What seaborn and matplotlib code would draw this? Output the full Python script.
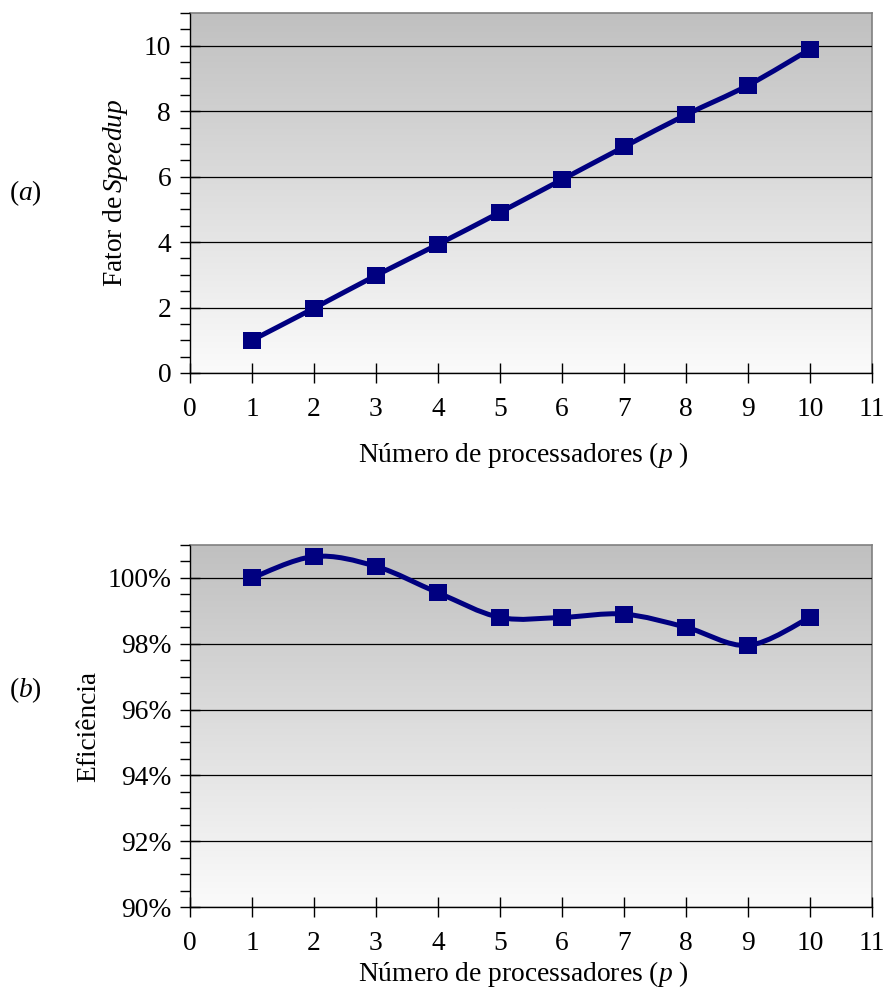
import numpy as np
import pandas as pd
import seaborn as sns
import matplotlib
matplotlib.use("Agg")
import matplotlib.pyplot as plt
from matplotlib.path import Path
from matplotlib.patches import PathPatch
from matplotlib.colors import LinearSegmentedColormap
from matplotlib.ticker import MultipleLocator, FuncFormatter

# ---- data ----
processors = [1, 2, 3, 4, 5, 6, 7, 8, 9, 10]
speedup = [1.00, 1.98, 2.98, 3.93, 4.91, 5.91, 6.91, 7.89, 8.79, 9.89]
efficiency = [100.0, 100.65, 100.35, 99.55, 98.8, 98.8, 98.9, 98.5, 97.95, 98.8]
x_ticks = list(range(0, 12))

sns.set_style("ticks")
plt.rcParams['font.family'] = ['Liberation Serif', 'DejaVu Serif']
plt.rcParams['mathtext.fontset'] = 'custom'
plt.rcParams['mathtext.rm'] = 'Liberation Serif'
plt.rcParams['mathtext.it'] = 'Liberation Serif:italic'
for k in ['text.color', 'axes.labelcolor', 'xtick.color', 'ytick.color',
          'xtick.labelcolor', 'ytick.labelcolor']:
    plt.rcParams[k] = 'black'

FS = 19.8
NAVY = '#000080'

fig = plt.figure(figsize=(8.87, 9.90), dpi=100)
L, R = 190 / 887, 872 / 887
W = R - L
ax1 = fig.add_axes([L, 1 - 373 / 990, W, 360 / 990])
ax2 = fig.add_axes([L, 1 - 907 / 990, W, 362 / 990])

grad_cmap = LinearSegmentedColormap.from_list('g', ['#fbfbfb', '#c0c0c0'])


def smooth_path(xs, ys):
    pts = np.column_stack([xs, ys]).astype(float)
    n = len(pts)
    verts = [pts[0]]
    codes = [Path.MOVETO]
    for i in range(n - 1):
        p0 = pts[max(i - 1, 0)]
        p1 = pts[i]
        p2 = pts[i + 1]
        p3 = pts[min(i + 2, n - 1)]
        c1 = p1 + (p2 - p0) / 6.0
        c2 = p2 - (p3 - p1) / 6.0
        verts += [c1, c2, p2]
        codes += [Path.CURVE4] * 3
    return Path(verts, codes)


def style_axis(ax, ymin, ymax, ymajor, yminor):
    ax.imshow(np.linspace(0, 1, 256).reshape(-1, 1)[::-1], cmap=grad_cmap,
              extent=[0, 1, 0, 1], transform=ax.transAxes, aspect='auto',
              zorder=0, interpolation='bicubic')
    ax.set_xlim(0, 11)
    ax.set_ylim(ymin, ymax)
    ax.set_xticks(x_ticks)
    ax.yaxis.set_major_locator(MultipleLocator(ymajor))
    ax.yaxis.set_minor_locator(MultipleLocator(yminor))
    ax.grid(axis='y', which='major', color='black', linewidth=0.9, zorder=1)
    ax.grid(axis='x', visible=False)
    for s in ['left', 'bottom']:
        ax.spines[s].set_color('black')
        ax.spines[s].set_linewidth(1.0)
    for s in ['top', 'right']:
        ax.spines[s].set_color('#808080')
        ax.spines[s].set_linewidth(1.2)
        ax.spines[s].set_visible(True)
    ax.tick_params(axis='x', which='major', direction='inout', length=15,
                   width=1.0, color='black', labelsize=FS, pad=10)
    ax.tick_params(axis='y', which='major', direction='inout', length=15,
                   width=1.0, color='black', labelsize=FS, pad=6)
    ax.tick_params(axis='y', which='minor', direction='out', length=7,
                   width=1.0, color='black')
    ax.set_axisbelow(False)


def draw_series(ax, ys):
    df = pd.DataFrame({'p': processors, 'v': ys})
    patch = PathPatch(smooth_path(df['p'], df['v']), facecolor='none',
                      edgecolor=NAVY, linewidth=3.6, zorder=3,
                      capstyle='round', joinstyle='round')
    ax.add_patch(patch)
    sns.scatterplot(data=df, x='p', y='v', ax=ax, marker='s', s=150,
                    color=NAVY, edgecolor='none', linewidth=0, zorder=4)


# (a) speedup
style_axis(ax1, 0, 11, 2, 0.5)
draw_series(ax1, speedup)
ax1.set_xlabel('Número de processadores ($p$ )', fontsize=FS)
ax1.set_ylabel('Fator de$\\,$$\\mathit{Speedup}$', fontsize=FS)
ax1.yaxis.set_major_formatter(FuncFormatter(lambda v, _: f'{v:.0f}'))
ax1.xaxis.set_label_coords((523 - 190) / 682, -(462 - 373) / 360)
ax1.yaxis.set_label_coords((116 - 190) / 682, 0.5)
ax1.xaxis.label.set_va('baseline')
ax1.yaxis.label.set_va('center')

# (b) efficiency
style_axis(ax2, 90, 101, 2, 0.5)
draw_series(ax2, efficiency)
ax2.set_xlabel('Número de processadores ($p$ )', fontsize=FS)
ax2.set_ylabel('Eficiência', fontsize=FS)
ax2.yaxis.set_major_formatter(FuncFormatter(lambda v, _: f'{v:.0f}%'))
ax2.xaxis.set_label_coords((523 - 190) / 682, -(981 - 907) / 362)
ax2.yaxis.set_label_coords((89 - 190) / 682, 0.5)
ax2.xaxis.label.set_va('baseline')
ax2.yaxis.label.set_va('center')

fig.text(25 / 887, 1 - 193 / 990, '($a$)', fontsize=FS, ha='center', va='center')
fig.text(25 / 887, 1 - 690 / 990, '($b$)', fontsize=FS, ha='center', va='center')

fig.savefig('out.png', dpi=100)
